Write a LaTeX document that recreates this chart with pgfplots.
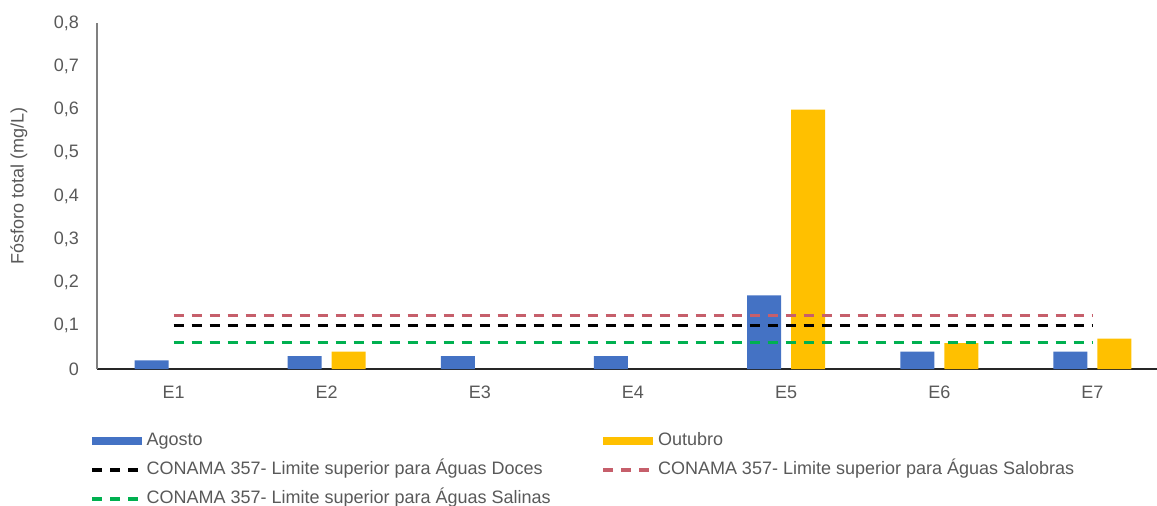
\documentclass[border=0pt]{standalone}
\usepackage{pgfplots}
\pgfplotsset{compat=1.18}
\usepackage{fontspec}
\setmainfont{Liberation Sans}

\definecolor{agosto}{HTML}{4472C4}
\definecolor{outubro}{HTML}{FFC000}
\definecolor{salobras}{HTML}{C65F6B}
\definecolor{salinas}{HTML}{00B050}
\definecolor{txt}{HTML}{595959}

\begin{document}
\begin{tikzpicture}
% the chart is cut at the right edge, as in the reference
\path[use as bounding box] (-48.5pt,-68pt) rectangle (530pt,184.5pt);
\begin{axis}[
  at={(0,0)}, anchor=south west,
  scale only axis, width=536pt, height=173pt,
  xmin=0.5, xmax=7.5, ymin=0, ymax=0.8,
  axis x line*=bottom, axis y line*=left,
  x axis line style={draw=black!85, line width=0.8pt, -},
  y axis line style={draw=gray, line width=0.6pt, -},
  xtick={1,...,7}, xticklabels={E1,E2,E3,E4,E5,E6,E7},
  ytick={0,0.1,0.2,0.3,0.4,0.5,0.6,0.7,0.8},
  yticklabels={0,{0,1},{0,2},{0,3},{0,4},{0,5},{0,6},{0,7},{0,8}},
  major tick length=0pt,
  tick label style={font=\fontsize{9}{11}\selectfont, text=txt},
  xticklabel style={yshift=-5pt},
  yticklabel style={xshift=-5.5pt},
  ylabel={Fósforo total (mg/L)},
  every axis y label/.style={at={(axis description cs:-0.0728,0.53)}, rotate=90, anchor=center, font=\fontsize{9}{11}\selectfont, text=txt},
  legend columns=2,
  legend cell align=left,
  legend style={draw=none, fill=none, at={(axis description cs:-0.0065,-0.175)}, anchor=north west,
    inner sep=0pt, font=\fontsize{9}{11}\selectfont, text=txt,
    nodes={inner xsep=1.5pt, inner ysep=1pt, text height=7pt, text depth=2pt},
    row sep=3.5pt,
    /tikz/column 2/.style={column sep=24pt}},
]
\addplot[ybar, bar width=17pt, bar shift=-11pt, fill=agosto, draw=none,
  legend image code/.code={\fill (0pt,-2pt) rectangle (25pt,2pt);}]
  coordinates {(1,0.02) (2,0.03) (3,0.03) (4,0.03) (5,0.17) (6,0.04) (7,0.04)};
\addlegendentry{Agosto}
\addplot[ybar, bar width=17pt, bar shift=11pt, fill=outubro, draw=none,
  legend image code/.code={\fill (0pt,-2pt) rectangle (25pt,2pt);}]
  coordinates {(2,0.04) (5,0.6) (6,0.06) (7,0.07)};
\addlegendentry{Outubro}
\addplot[black, line width=1.6pt, dash pattern=on 5pt off 4pt, mark=none,
  legend image code/.code={\draw (0pt,0pt) -- (25pt,0pt);}]
  coordinates {(1,0.1) (7,0.1)};
\addlegendentry{CONAMA 357- Limite superior para Águas Doces}
\addplot[salobras, line width=1.6pt, dash pattern=on 5pt off 4pt, mark=none,
  legend image code/.code={\draw (0pt,0pt) -- (25pt,0pt);}]
  coordinates {(1,0.124) (7,0.124)};
\addlegendentry{CONAMA 357- Limite superior para Águas Salobras}
\addplot[salinas, line width=1.6pt, dash pattern=on 5pt off 4pt, mark=none,
  legend image code/.code={\draw (0pt,0pt) -- (25pt,0pt);}]
  coordinates {(1,0.062) (7,0.062)};
\addlegendentry{CONAMA 357- Limite superior para Águas Salinas}
\end{axis}
\end{tikzpicture}
\end{document}
